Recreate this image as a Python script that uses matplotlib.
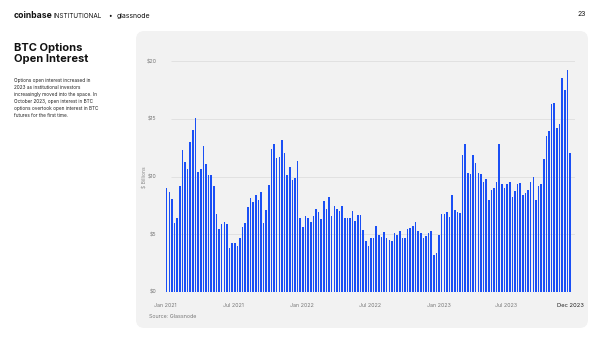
"""BTC options open interest, weekly bars, Coinbase Institutional x Glassnode slide."""

import matplotlib
matplotlib.use("Agg")
import matplotlib.pyplot as plt
import matplotlib.dates as mdates
import pandas as pd
from matplotlib.patches import FancyBboxPatch

plt.rcParams["font.family"] = ["Inter", "DejaVu Sans"]

# weekly BTC options open interest, $ billions
oi_billions = [
    9.03, 8.70, 8.05, 6.00, 6.43, 9.20, 12.27, 11.23, 10.62, 13.00,
    14.03, 15.04, 10.39, 10.68, 12.64, 11.08, 10.13, 10.13, 9.20, 6.73,
    5.45, 5.86, 6.09, 5.86, 3.84, 4.21, 4.27, 3.98, 4.68, 5.63,
    6.00, 7.36, 8.16, 7.82, 8.42, 7.97, 8.68, 5.95, 7.10, 9.24,
    12.38, 12.81, 11.63, 11.69, 13.19, 12.06, 10.13, 10.80, 9.70, 9.90,
    11.37, 6.40, 5.65, 6.58, 6.38, 6.06, 6.58, 7.18, 6.95, 6.35,
    7.88, 7.16, 8.21, 6.59, 7.45, 7.17, 7.04, 7.45, 6.43, 6.40,
    6.43, 7.04, 6.17, 6.64, 6.64, 5.37, 4.42, 3.95, 4.70, 4.70,
    5.71, 4.94, 4.73, 5.17, 4.70, 4.47, 4.44, 5.13, 4.94, 5.31,
    4.65, 4.65, 5.43, 5.50, 5.71, 6.02, 5.31, 5.13, 4.65, 4.83,
    5.08, 5.31, 3.17, 3.40, 4.94, 6.75, 6.75, 6.96, 6.52, 8.40,
    7.10, 6.90, 6.88, 11.86, 12.81, 10.33, 10.22, 11.86, 11.14, 10.33,
    10.19, 9.55, 9.76, 7.97, 8.83, 9.03, 9.55, 12.78, 9.35, 8.98,
    9.35, 9.50, 8.20, 8.74, 9.35, 9.41, 8.40, 8.60, 8.83, 9.50,
    9.93, 7.97, 9.18, 9.32, 11.49, 13.50, 13.97, 16.25, 16.39, 14.23,
    14.52, 18.55, 17.49, 19.22, 12.06,
]
weeks = pd.date_range("2021-01-04", periods=len(oi_billions), freq="W-MON")

x_tick_dates = pd.to_datetime([
    "2021-01-01", "2021-07-01", "2022-01-01", "2022-07-01",
    "2023-01-01", "2023-07-01", "2023-12-18",
])
x_tick_labels = ["Jan 2021", "Jul 2021", "Jan 2022", "Jul 2022",
                 "Jan 2023", "Jul 2023", "Dec 2023"]
y_ticks = [0, 5, 10, 15, 20]
y_tick_labels = ["$0", "$5", "$10", "$15", "$20"]

BLUE = "#1a4ff5"
W, H = 600, 338


def fx(px):
    return px / W


def fy(py):
    return 1 - py / H


fig = plt.figure(figsize=(6, 3.38), dpi=100)
fig.patch.set_facecolor("white")

# grey card behind the chart (figure children draw axes first, so push it back)
card = FancyBboxPatch(
    (fx(136), fy(328)), fx(588) - fx(136), fy(31) - fy(328),
    boxstyle="round,pad=0,rounding_size=0.014",
    transform=fig.transFigure, facecolor="#f2f2f2", edgecolor="none",
    mutation_aspect=W / H, zorder=-5,
)
fig.patches.append(card)

# header
fig.text(fx(14), fy(16), "coinbase", fontsize=6.2, fontweight="bold",
         color="#111", va="center", ha="left")
fig.text(fx(53), fy(16), "INSTITUTIONAL", fontsize=4.6, color="#111",
         va="center", ha="left")
fig.text(fx(108), fy(16), "\u2022", fontsize=4.6, color="#111",
         va="center", ha="left")
fig.text(fx(117), fy(16), "glassnode", fontsize=5.0, color="#111",
         va="center", ha="left")
fig.text(fx(586), fy(14), "23", fontsize=5.0, color="#111",
         va="center", ha="right")

# left column text
fig.text(fx(14), fy(43), "BTC Options\nOpen Interest", fontsize=8.0,
         fontweight="bold", color="#111", va="top", ha="left",
         linespacing=1.15)
fig.text(
    fx(14), fy(78),
    "Options open interest increased in\n"
    "2023 as institutional investors\n"
    "increasingly moved into the space. In\n"
    "October 2023, open interest in BTC\n"
    "options overtook open interest in BTC\n"
    "futures for the first time.",
    fontsize=3.4, color="#222", va="top", ha="left", linespacing=1.5,
)

# chart
ax = fig.add_axes([fx(160), fy(292), fx(575) - fx(160), fy(61) - fy(292)])
ax.set_facecolor("none")
ax.bar(weeks, oi_billions, width=4.2, color=BLUE, zorder=3)

first = mdates.date2num(weeks[0])
last = mdates.date2num(weeks[-1])
ax.set_xlim(first - 17.9, last + 13.4)
ax.set_ylim(0, 20)

# gridlines start a little right of the first bar, as on the slide
ax.hlines(y_ticks[1:], first + 11.5, last + 13.4, color="#dedede",
          linewidth=0.6, zorder=0)

ax.set_yticks(y_ticks)
ax.set_yticklabels(y_tick_labels)
ax.set_xticks(x_tick_dates)
ax.set_xticklabels(x_tick_labels)
ax.tick_params(axis="both", length=0, labelsize=3.8, labelcolor="#777")
ax.tick_params(axis="y", pad=2.5)
ax.tick_params(axis="x", pad=8)
ax.get_xticklabels()[-1].set_color("#222")
ax.get_xticklabels()[-1].set_fontsize(4.2)

for s in ax.spines.values():
    s.set_visible(False)

fig.text(fx(145), fy(177), "$ Billions", rotation=90, fontsize=3.6,
         color="#888", va="center", ha="center")
fig.text(fx(149), fy(317), "Source: Glassnode", fontsize=3.8, color="#777",
         va="center", ha="left")

fig.savefig("out.png", dpi=100)
